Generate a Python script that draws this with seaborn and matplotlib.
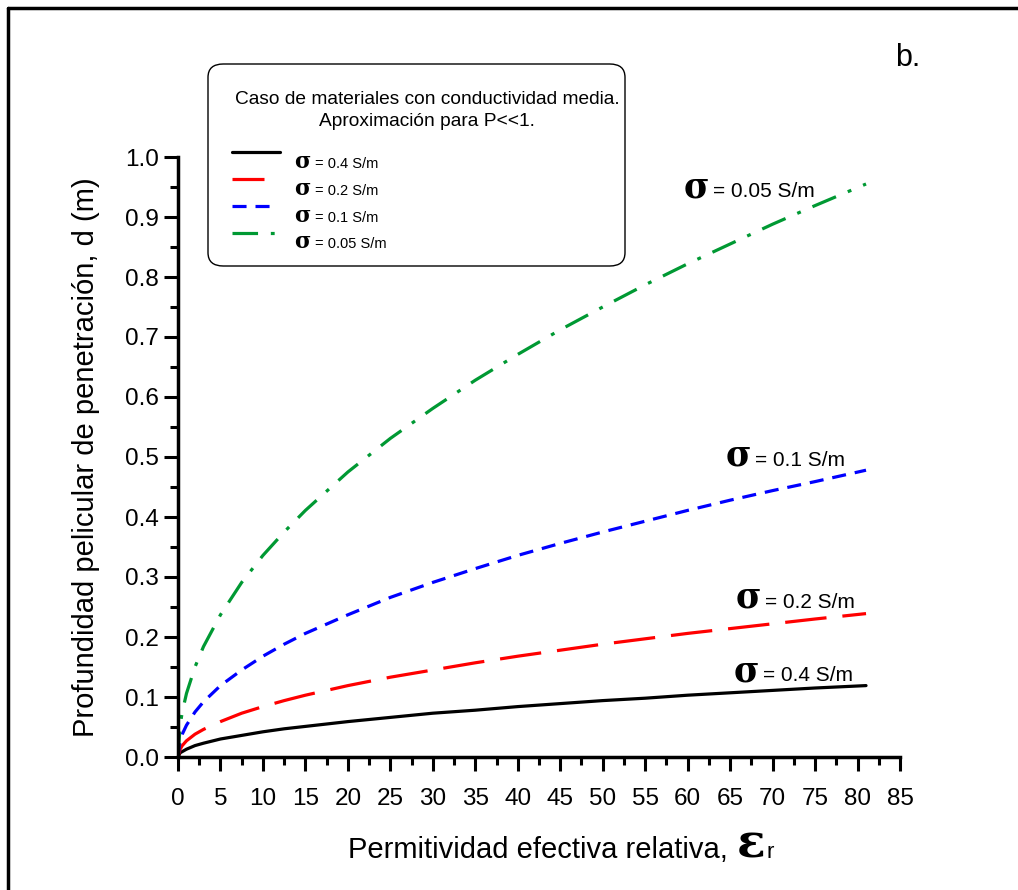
import numpy as np
import pandas as pd
import matplotlib
matplotlib.use("Agg")
import matplotlib.pyplot as plt
import seaborn as sns
from matplotlib.patches import FancyBboxPatch
from matplotlib.lines import Line2D

# Data
eps_r = [0, 0.25, 0.5, 1, 2, 3, 5, 7.5, 10, 12.5, 15, 20, 25, 30, 35, 40,
         45, 50, 55, 60, 65, 70, 75, 81]
d_s005 = [0, 0.053, 0.075, 0.106, 0.150, 0.184, 0.237, 0.291, 0.336, 0.375, 0.411, 0.475,
          0.531, 0.581, 0.628, 0.671, 0.712, 0.750, 0.787, 0.822, 0.855, 0.888, 0.919, 0.955]
d_s01 = [0, 0.027, 0.038, 0.053, 0.075, 0.092, 0.119, 0.145, 0.168, 0.188, 0.206, 0.237,
         0.266, 0.291, 0.314, 0.336, 0.356, 0.375, 0.393, 0.411, 0.428, 0.444, 0.459, 0.478]
d_s02 = [0, 0.013, 0.019, 0.027, 0.038, 0.046, 0.059, 0.073, 0.084, 0.094, 0.103, 0.119,
         0.133, 0.145, 0.157, 0.168, 0.178, 0.188, 0.197, 0.206, 0.214, 0.222, 0.230, 0.239]
d_s04 = [0, 0.007, 0.009, 0.013, 0.019, 0.023, 0.030, 0.036, 0.042, 0.047, 0.051, 0.059,
         0.066, 0.073, 0.078, 0.084, 0.089, 0.094, 0.098, 0.103, 0.107, 0.111, 0.115, 0.119]

sigmas = ["0.4", "0.2", "0.1", "0.05"]
series = {"0.4": d_s04, "0.2": d_s02, "0.1": d_s01, "0.05": d_s005}
colors = {"0.4": "black", "0.2": "#ff0000", "0.1": "#0000ff", "0.05": "#009933"}
dashes = {"0.4": "", "0.2": (13, 5), "0.1": (4.4, 2.8), "0.05": (8, 4, 1.2, 4)}

df = pd.concat([pd.DataFrame({"eps": eps_r, "d": series[s], "sigma": s}) for s in sigmas])

sns.set_style("ticks")
plt.rcParams["font.family"] = ["Liberation Sans", "DejaVu Sans"]
plt.rcParams.update({"text.color": "black", "axes.labelcolor": "black",
                     "xtick.color": "black", "ytick.color": "black",
                     "axes.edgecolor": "black"})

W, H = 1018, 890
fig = plt.figure(figsize=(W / 100, H / 100), dpi=100)
ax = fig.add_axes([178 / W, 1 - 757 / H, 722 / W, 600 / H])


def px(x, y):
    return x / W, 1 - y / H


sns.lineplot(data=df, x="eps", y="d", hue="sigma", style="sigma", palette=colors,
             dashes=dashes, linewidth=2.3, legend=False, estimator=None, sort=False, ax=ax)

ax.set_xlim(0, 85)
ax.set_ylim(0, 1.0)
ax.set_xticks(np.arange(0, 86, 5))
ax.set_xticks(np.arange(2.5, 85, 5), minor=True)
ax.set_yticks(np.arange(0, 1.01, 0.1))
ax.set_yticks(np.arange(0.05, 1.0, 0.1), minor=True)
ax.yaxis.set_major_formatter(matplotlib.ticker.FormatStrFormatter("%.1f"))
ax.tick_params(which="major", length=10, width=2.2, labelsize=17.5, direction="out")
ax.tick_params(axis="x", which="major", pad=12)
ax.tick_params(axis="y", which="major", pad=4)
ax.tick_params(which="minor", length=6, width=2.2, direction="out")
for s in ["top", "right"]:
    ax.spines[s].set_visible(False)
for s in ["left", "bottom"]:
    ax.spines[s].set_linewidth(2.5)
ax.set_xlabel("")
ax.set_ylabel("Profundidad pelicular de penetración, d (m)", fontsize=21, labelpad=18)

SYM = "DejaVu Serif"

# x label with epsilon
fig.text(*px(736, 858), "Permitividad efectiva relativa, ", fontsize=21, ha="right", va="baseline")
fig.text(*px(737, 858), "ε", fontsize=34, family=SYM, weight="bold", ha="left", va="baseline")
fig.text(*px(766, 858), "r", fontsize=16, ha="left", va="baseline")


# curve annotations
def sigma_label(x, y, txt):
    fig.text(*px(x, y), "σ", fontsize=25, family=SYM, weight="bold",
             ha="left", va="baseline")
    fig.text(*px(x + 29, y), "= " + txt + " S/m", fontsize=15, ha="left", va="baseline")


sigma_label(684, 197, "0.05")
sigma_label(726, 466, "0.1")
sigma_label(736, 608, "0.2")
sigma_label(734, 681, "0.4")

fig.text(*px(908, 58), "b.", fontsize=22, ha="center", va="center")

# legend box
box = FancyBboxPatch(px(208, 266), 417 / W, 202 / H,
                     boxstyle="round,pad=0,rounding_size=0.015", transform=fig.transFigure,
                     facecolor="white", edgecolor="black", linewidth=1.0)
fig.patches.append(box)
fig.text(*px(427, 100), "Caso de materiales con conductividad media.",
         fontsize=13.8, ha="center", va="center")
fig.text(*px(427, 122), "Aproximación para P<<1.",
         fontsize=13.8, ha="center", va="center")
handle_y = [152, 179, 206, 233]
handle_len = [48, 32, 38, 48]
label_y = [168, 195, 222, 248]
for s, hy, hl, ly in zip(sigmas, handle_y, handle_len, label_y):
    ls = "-" if dashes[s] == "" else (0, dashes[s])
    fig.lines.append(Line2D([232 / W, (232 + hl) / W], [1 - hy / H, 1 - hy / H],
                            transform=fig.transFigure, color=colors[s], linewidth=2.3,
                            linestyle=ls))
    fig.text(*px(294, ly), "σ", fontsize=16, family=SYM, weight="bold",
             ha="left", va="baseline")
    fig.text(*px(315, ly), "= " + s + " S/m", fontsize=10.5, ha="left", va="baseline")

# outer frame (left and top edges visible)
fig.lines.append(Line2D([8 / W, 8 / W], [0, 1 - 8 / H], transform=fig.transFigure,
                        color="black", linewidth=2.5))
fig.lines.append(Line2D([8 / W, 1], [1 - 8 / H, 1 - 8 / H], transform=fig.transFigure,
                        color="black", linewidth=2.5))

fig.savefig("out.png", dpi=100)
